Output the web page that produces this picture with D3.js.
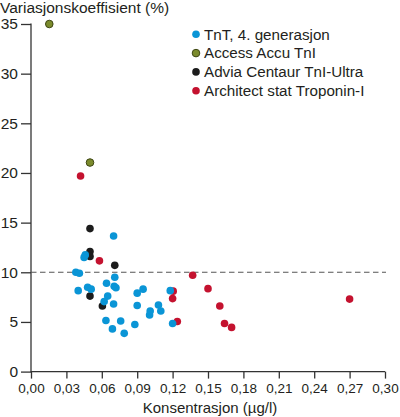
<!DOCTYPE html>
<html>
<head>
<meta charset="utf-8">
<style>
  body { margin: 0; background: #fff; }
  text { font-family: "Liberation Sans", Arial, sans-serif; fill: #231f20; }
</style>
</head>
<body>
<svg id="chart" width="400" height="417"></svg>
<script src="https://cdn.jsdelivr.net/npm/d3@7/dist/d3.min.js"></script>
<script>
// data: [konsentrasjon µg/l, variasjonskoeffisient %]
const tntPoints = [
  [0.038, 10.0], [0.041, 9.9], [0.040, 8.15], [0.046, 11.75], [0.045, 11.5],
  [0.048, 8.5], [0.051, 8.3], [0.070, 13.65], [0.064, 8.9], [0.071, 9.5],
  [0.0705, 8.6], [0.072, 8.45], [0.065, 7.6], [0.062, 7.05], [0.070, 6.8],
  [0.0635, 5.15], [0.069, 4.3], [0.076, 5.1], [0.079, 3.85], [0.088, 4.75],
  [0.090, 7.9], [0.090, 6.65], [0.095, 8.3], [0.1005, 5.7], [0.101, 6.1],
  [0.108, 6.7], [0.110, 6.1], [0.118, 8.15], [0.120, 4.85]
]
const accessPoints = [[0.0155, 35.0], [0.050, 21.05]]
const adviaPoints = [
  [0.050, 14.4], [0.050, 12.1], [0.050, 11.6], [0.050, 7.6], [0.071, 10.7], [0.0605, 6.6]
]
const architectPoints = [
  [0.042, 19.7], [0.058, 11.15], [0.1205, 8.1], [0.120, 7.35], [0.124, 5.05],
  [0.137, 9.7], [0.150, 8.35], [0.160, 6.6], [0.164, 4.85], [0.170, 4.45], [0.270, 7.3]
]
const seriesNames = ['TnT, 4. generasjon', 'Access Accu TnI', 'Advia Centaur TnI-Ultra', 'Architect stat Troponin-I']
const seriesColors = ['#0a95d6', '#7b8b2c', '#1c1c1c', '#c4122f']
const xTicks = [0, 0.03, 0.06, 0.09, 0.12, 0.15, 0.18, 0.21, 0.24, 0.27, 0.30]
const yTicks = [0, 5, 10, 15, 20, 25, 30, 35]
const refLine = 10

const svg = d3.select('#chart')
const x = d3.scaleLinear().domain([0, 0.30]).range([31, 385])
const y = d3.scaleLinear().domain([0, 35]).range([371.6, 24])
const comma = d3.formatLocale({ decimal: ',', thousands: ' ', grouping: [3], currency: ['', ''] })

// axes
const yAxis = svg.append('g').attr('transform', `translate(${x(0)},0)`)
  .call(d3.axisLeft(y).tickValues(yTicks).tickSize(10).tickPadding(3).tickSizeOuter(0))
yAxis.select('.domain').remove()
yAxis.selectAll('.tick line').attr('stroke', '#333').attr('stroke-width', 1.3)
yAxis.selectAll('.tick text').attr('font-size', '15.5px').attr('font-family', null).attr('fill', '#231f20')
yAxis.append('line').attr('x1', 0).attr('x2', 0).attr('y1', y(35) - 0.6).attr('y2', y(0))
  .attr('stroke', '#333').attr('stroke-width', 1.3)

const xAxis = svg.append('g').attr('transform', `translate(0,${y(0)})`)
  .call(d3.axisBottom(x).tickValues(xTicks).tickSize(7).tickPadding(5).tickFormat(comma.format('.2f')))
xAxis.select('.domain').remove()
xAxis.selectAll('.tick line').attr('stroke', '#333').attr('stroke-width', 1.3)
xAxis.selectAll('.tick text').attr('font-size', '13.5px').attr('font-family', null).attr('fill', '#231f20')
xAxis.append('line').attr('x1', x(0) - 0.6).attr('x2', x(0.30)).attr('y1', 0).attr('y2', 0)
  .attr('stroke', '#333').attr('stroke-width', 1.3)

// dashed line at 10 %
svg.append('line')
  .attr('x1', x(0)).attr('x2', x(0.30) + 1)
  .attr('y1', y(refLine)).attr('y2', y(refLine))
  .attr('stroke', '#555').attr('stroke-width', 1.1).attr('stroke-dasharray', '5.5,3.5')

// titles
svg.append('text').attr('x', 0).attr('y', 13).attr('font-size', '15.5px').text('Variasjonskoeffisient (%)')
svg.append('text').attr('x', 210).attr('y', 413).attr('text-anchor', 'middle').attr('font-size', '15px')
  .text('Konsentrasjon (µg/l)')

// points
function drawPoints(data, i) {
  svg.append('g').selectAll('circle').data(data).enter().append('circle')
    .attr('cx', d => x(d[0])).attr('cy', d => y(d[1])).attr('r', 3.8)
    .attr('fill', seriesColors[i])
    .attr('stroke', i === 1 ? '#3e4613' : 'none').attr('stroke-width', 1)
}
drawPoints(architectPoints, 3)
drawPoints(accessPoints, 1)
drawPoints(adviaPoints, 2)
drawPoints(tntPoints, 0)

// legend
const legend = svg.append('g').selectAll('g').data(seriesNames).enter().append('g')
legend.append('circle').attr('cx', 196).attr('cy', (d, i) => 34.3 + i * 18.8).attr('r', 3.8)
  .attr('fill', (d, i) => seriesColors[i])
  .attr('stroke', (d, i) => i === 1 ? '#3e4613' : 'none').attr('stroke-width', 1)
legend.append('text').attr('x', 204).attr('y', (d, i) => 39.5 + i * 18.7)
  .attr('font-size', '15.2px').text(d => d)
</script>
</body>
</html>
